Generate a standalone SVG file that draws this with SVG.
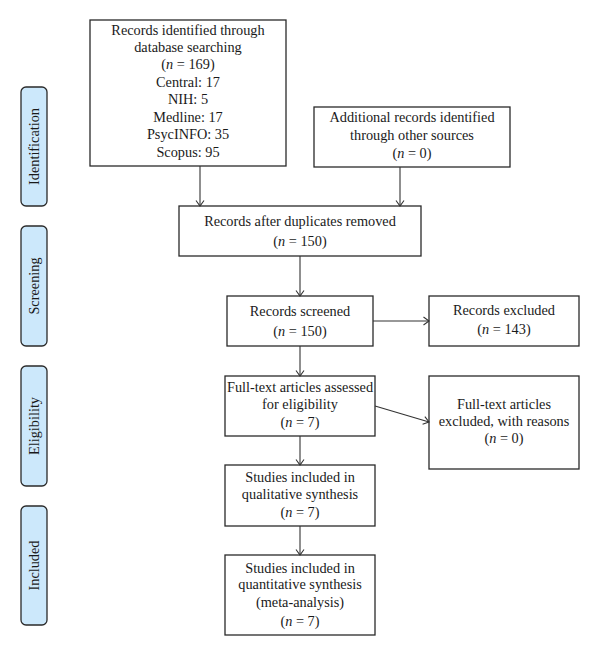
<svg xmlns="http://www.w3.org/2000/svg" width="600" height="656" viewBox="0 0 600 656">
<defs>
<marker id="ah" markerUnits="userSpaceOnUse" markerWidth="12" markerHeight="12" viewBox="-7 -6 8 12" refX="0" refY="0" orient="auto">
<path d="M-5.5,-4 L0,0 L-5.5,4" fill="none" stroke="#333" stroke-width="1.1"/>
</marker>
</defs>
<style>
.box{fill:#fff;stroke:#2a2a2a;stroke-width:1.3}
.lab{fill:#cce8fb;stroke:#2a2a2a;stroke-width:1.3}
text{font-family:"Liberation Serif","Times New Roman",serif;font-size:14.3px;fill:#1a1a1a;text-anchor:middle}
.i{font-style:italic}
.c{fill:none;stroke:#333;stroke-width:1.1;marker-end:url(#ah)}
</style>
<rect width="600" height="656" fill="#fff"/>
<g id="label-identification">
<rect class="lab" x="21" y="87" width="26" height="119" rx="5"/>
<text transform="translate(39,146.5) rotate(-90)">Identification</text>
</g>
<g id="label-screening">
<rect class="lab" x="21" y="226" width="26" height="120" rx="5"/>
<text transform="translate(39,286) rotate(-90)">Screening</text>
</g>
<g id="label-eligibility">
<rect class="lab" x="21" y="366" width="26" height="120" rx="5"/>
<text transform="translate(39,426) rotate(-90)">Eligibility</text>
</g>
<g id="label-included">
<rect class="lab" x="21" y="506" width="26" height="119" rx="5"/>
<text transform="translate(39,565.5) rotate(-90)">Included</text>
</g>
<g id="records-identified">
<rect class="box" x="90" y="20" width="196" height="146"/>
<text x="188" y="35">Records identified through</text>
<text x="188" y="52">database searching</text>
<text x="188" y="69">(<tspan class="i">n</tspan> = 169)</text>
<text x="188" y="87">Central: 17</text>
<text x="188" y="104">NIH: 5</text>
<text x="188" y="122">Medline: 17</text>
<text x="188" y="139">PsycINFO: 35</text>
<text x="188" y="157">Scopus: 95</text>
</g>
<g id="additional-records">
<rect class="box" x="314" y="107" width="196" height="60"/>
<text x="412" y="122">Additional records identified</text>
<text x="412" y="140">through other sources</text>
<text x="412" y="158">(<tspan class="i">n</tspan> = 0)</text>
</g>
<g id="after-duplicates">
<rect class="box" x="179" y="206" width="242" height="50"/>
<text x="300" y="226">Records after duplicates removed</text>
<text x="300" y="246">(<tspan class="i">n</tspan> = 150)</text>
</g>
<g id="records-screened">
<rect class="box" x="227" y="296" width="146" height="50"/>
<text x="300" y="316">Records screened</text>
<text x="300" y="336">(<tspan class="i">n</tspan> = 150)</text>
</g>
<g id="records-excluded">
<rect class="box" x="429" y="296" width="150" height="50"/>
<text x="504" y="315">Records excluded</text>
<text x="504" y="334">(<tspan class="i">n</tspan> = 143)</text>
</g>
<g id="fulltext-assessed">
<rect class="box" x="225" y="376" width="150" height="60"/>
<text x="300" y="392">Full-text articles assessed</text>
<text x="300" y="409">for eligibility</text>
<text x="300" y="427">(<tspan class="i">n</tspan> = 7)</text>
</g>
<g id="fulltext-excluded">
<rect class="box" x="429" y="376" width="150" height="93"/>
<text x="504" y="409">Full-text articles</text>
<text x="504" y="426">excluded, with reasons</text>
<text x="504" y="443">(<tspan class="i">n</tspan> = 0)</text>
</g>
<g id="qualitative">
<rect class="box" x="225" y="465" width="150" height="61"/>
<text x="300" y="482">Studies included in</text>
<text x="300" y="499">qualitative synthesis</text>
<text x="300" y="517">(<tspan class="i">n</tspan> = 7)</text>
</g>
<g id="quantitative">
<rect class="box" x="225" y="555" width="150" height="80"/>
<text x="300" y="573">Studies included in</text>
<text x="300" y="589">quantitative synthesis</text>
<text x="300" y="607">(meta-analysis)</text>
<text x="300" y="626">(<tspan class="i">n</tspan> = 7)</text>
</g>
<g id="connectors">
<path class="c" d="M200,166 L200,206"/>
<path class="c" d="M400,167 L400,206"/>
<path class="c" d="M300,256 L300,296"/>
<path class="c" d="M373,321 L429,321"/>
<path class="c" d="M300,346 L300,376"/>
<path class="c" d="M375,406 L429,422"/>
<path class="c" d="M300,436 L300,465"/>
<path class="c" d="M300,526 L300,555"/>
</g>
</svg>
